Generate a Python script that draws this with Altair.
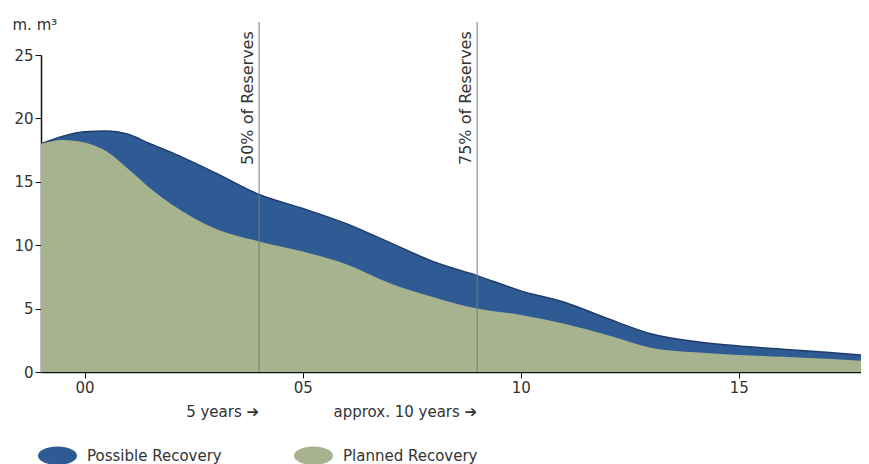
import altair as alt
import pandas as pd

# ---- data ----
years = [-1, -0.5, 0, 0.5, 1, 1.5, 2, 3, 4, 5, 6, 7, 8, 9, 10, 11, 12, 13, 14, 15, 16, 17, 18]
possible = [18.0, 18.6, 18.95, 19.0, 18.75, 18.0, 17.3, 15.7, 14.0, 12.9, 11.7, 10.2, 8.7,
            7.6, 6.4, 5.5, 4.2, 3.0, 2.4, 2.05, 1.8, 1.55, 1.3]
planned = [18.0, 18.3, 18.1, 17.4, 16.0, 14.5, 13.2, 11.3, 10.3, 9.5, 8.5, 7.0, 5.9,
           5.0, 4.5, 3.8, 2.9, 1.9, 1.55, 1.35, 1.2, 1.05, 0.85]
series = ["Possible Recovery", "Planned Recovery"]
colors = ["#2f5b94", "#a7b28e"]

marker_x = [4, 9]
marker_labels = ["50% of Reserves", "75% of Reserves"]
period_labels = ["5 years \u2794", "approx. 10 years \u2794"]

x_ticks = [0, 5, 10, 15]
y_ticks = [0, 5, 10, 15, 20, 25]

FONT = "DejaVu Sans"
TXT = "#333333"
W, H = 820, 317

df = pd.DataFrame({
    "year": years * 2,
    "value": possible + planned,
    "series": [series[0]] * len(years) + [series[1]] * len(years),
})
mk = pd.DataFrame({"x": marker_x, "label": marker_labels, "period": period_labels})

xs = alt.Scale(domain=[-1, 17.8], nice=False, zero=False)
ys = alt.Scale(domain=[0, 25], nice=False)

x_enc = alt.X("year:Q", scale=xs, axis=alt.Axis(
    values=x_ticks, title=None, grid=False,
    labelExpr="datum.value < 10 ? '0' + datum.value : '' + datum.value",
    domainColor="#111", domainWidth=1.5, tickColor="#111", tickSize=6,
    labelFont=FONT, labelFontSize=15, labelColor=TXT, labelPadding=2))
y_enc = alt.Y("value:Q", scale=ys, axis=alt.Axis(
    values=y_ticks, grid=False, title="m. m\u00b3",
    titleAngle=0, titleAlign="left", titleBaseline="middle", titleX=-29, titleY=-31,
    titleFont=FONT, titleFontSize=15, titleFontWeight="normal", titleColor=TXT,
    domainColor="#111", domainWidth=1.5, tickColor="#111", tickSize=6,
    labelFont=FONT, labelFontSize=15, labelColor=TXT, labelPadding=2))

ellipse = "M -1 0 A 1 0.47 0 1 0 1 0 A 1 0.47 0 1 0 -1 0 Z"
color = alt.Color("series:N", scale=alt.Scale(domain=series, range=colors),
                  legend=alt.Legend(orient="none", legendX=-3, legendY=381, padding=0,
                                    direction="horizontal", title=None,
                                    symbolType=ellipse, symbolSize=1521,
                                    symbolStrokeWidth=0, symbolOpacity=1,
                                    labelFont=FONT, labelFontSize=15, labelColor=TXT,
                                    labelOffset=10, columnPadding=72))

base = alt.Chart(df)
area_pos = base.transform_filter(alt.datum.series == series[0]).mark_area(
    interpolate="monotone", clip=True, opacity=1).encode(x=x_enc, y=y_enc, color=color)
line_pos = base.transform_filter(alt.datum.series == series[0]).mark_line(
    interpolate="monotone", clip=True, color="#1f3c69", strokeWidth=1.5).encode(
    x=alt.X("year:Q", scale=xs), y=alt.Y("value:Q", scale=ys))
area_plan = base.transform_filter(alt.datum.series == series[1]).mark_area(
    interpolate="monotone", clip=True, opacity=1).encode(x=x_enc, y=y_enc, color=color)

rules = alt.Chart(mk).mark_rule(color="#7a7a7a", strokeWidth=1).encode(
    x=alt.X("x:Q", scale=xs), y=alt.value(-33), y2=alt.value(H))
rule_text = alt.Chart(mk).mark_text(
    angle=270, align="left", baseline="bottom", dy=-3,
    font=FONT, fontSize=16, color=TXT).encode(
    x=alt.X("x:Q", scale=xs), y=alt.value(110), text="label:N")
period_text = alt.Chart(mk).mark_text(
    align="right", baseline="middle", font=FONT, fontSize=15, color=TXT).encode(
    x=alt.X("x:Q", scale=xs), y=alt.value(H + 40), text="period:N")

chart = alt.layer(area_pos, line_pos, area_plan, rules, rule_text, period_text).properties(
    width=W, height=H,
    autosize=alt.AutoSizeParams(type="none"),
    padding={"left": 33, "top": 47, "right": 0, "bottom": 92},
    background="white",
).configure_view(stroke=None)

chart.save("out.html", embed_options={"renderer": "svg", "actions": False})
